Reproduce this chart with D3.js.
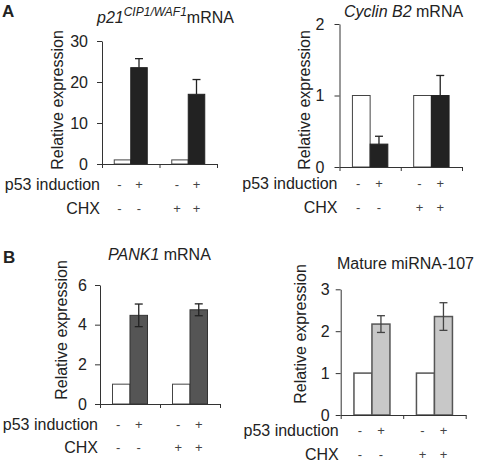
<!DOCTYPE html>
<html><head><meta charset="utf-8">
<script src="https://cdn.jsdelivr.net/npm/d3@7"></script>
<style>
body{margin:0;background:#fff;}
svg{display:block;font-family:"Liberation Sans",Arial,Helvetica,sans-serif;}
</style></head><body>
<svg id="c" width="479" height="467"></svg>
<script>
// ---- data ----
const groups = [0, 1];
const p53Signs = ["-", "+", "-", "+"];
const chxSigns = ["-", "-", "+", "+"];

const p21Values = [1, 23.5, 1, 17];
const p21Err = [0, 2.2, 0, 3.6];
const p21Ticks = [0, 10, 20, 30];

const cyclinValues = [1, 0.32, 1, 1.0];
const cyclinErr = [0, 0.11, 0, 0.28];
const cyclinTicks = [0, 1, 2];

const pank1Values = [1, 4.47, 1, 4.75];
const pank1Err = [0, 0.57, 0, 0.3];
const pank1Ticks = [0, 2, 4, 6];

const mirValues = [1, 2.17, 1, 2.35];
const mirErr = [0, 0.2, 0, 0.33];
const mirTicks = [0, 1, 2, 3];

const svg = d3.select("#c");
const TXT = "#222";

function panel(cfg) {
  const g = svg.append("g");
  const y = d3.scaleLinear().domain([0, d3.max(cfg.ticks)]).range([cfg.y0, cfg.y1]);
  const xg = d3.scaleBand().domain(groups).range([cfg.x0, cfg.x1]);
  const xl = d3.scaleLinear().domain([0, groups.length]).range([cfg.x0, cfg.x1]);
  const bw = cfg.bw;
  const barX = i => xg(Math.floor(i / 2)) + xg.bandwidth() / 2 + (i % 2 - 1) * bw;

  // bars
  g.selectAll("rect.bar").data(cfg.values).join("rect")
    .attr("x", (d, i) => barX(i))
    .attr("y", d => y(d))
    .attr("width", bw)
    .attr("height", d => y(0) - y(d))
    .attr("fill", (d, i) => i % 2 ? cfg.fill : "#fff")
    .attr("stroke", (d, i) => i % 2 ? cfg.barStroke : cfg.whiteStroke)
    .attr("stroke-width", cfg.sw);

  // error bars
  cfg.values.forEach((v, i) => {
    const e = cfg.err[i];
    if (!e) return;
    const cx = barX(i) + bw / 2;
    const lo = cfg.twoSided ? v - e : v;
    g.append("line").attr("x1", cx).attr("x2", cx).attr("y1", y(lo)).attr("y2", y(v + e))
      .attr("stroke", cfg.errColor).attr("stroke-width", 1.3);
    g.append("line").attr("x1", cx - 4).attr("x2", cx + 4).attr("y1", y(v + e)).attr("y2", y(v + e))
      .attr("stroke", cfg.errColor).attr("stroke-width", 1.3);
    if (cfg.twoSided)
      g.append("line").attr("x1", cx - 4).attr("x2", cx + 4).attr("y1", y(lo)).attr("y2", y(lo))
        .attr("stroke", cfg.errColor).attr("stroke-width", 1.3);
  });

  // y axis
  const ya = g.append("g").attr("transform", `translate(${cfg.x0},0)`)
    .call(d3.axisLeft(y).tickValues(cfg.ticks).tickSize(5).tickSizeOuter(0).tickPadding(cfg.tp).tickFormat(d3.format("d")));
  ya.selectAll("text").attr("font-size", 16).attr("fill", TXT).attr("font-family", null);
  ya.selectAll("line,path").attr("stroke", "#333");
  // x axis
  const xa = g.append("g").attr("transform", `translate(0,${cfg.y0})`)
    .call(d3.axisBottom(xl).tickValues(d3.range(groups.length + 1)).tickSize(4).tickSizeOuter(0).tickFormat(""));
  xa.selectAll("line,path").attr("stroke", "#333");

  // y label
  g.append("text").attr("transform", `translate(${cfg.ylx},${cfg.yly}) rotate(-90)`)
    .attr("text-anchor", "middle").attr("font-size", 16).attr("fill", TXT).text("Relative expression");

  // title
  const t = g.append("text").attr("x", cfg.tx).attr("y", cfg.ty).attr("font-size", 16).attr("fill", TXT);
  cfg.title.forEach(p => {
    const s = t.append("tspan").text(p.t);
    if (p.i) s.attr("font-style", "italic");
    if (p.sup) s.attr("font-size", 12).attr("dy", -7);
    if (p.down) s.attr("dy", 7);
  });

  // condition rows
  [["p53 induction", p53Signs, cfg.r1], ["CHX", chxSigns, cfg.r2]].forEach(([lab, signs, by]) => {
    g.append("text").attr("x", cfg.x0 - 2).attr("y", by).attr("text-anchor", "end")
      .attr("font-size", 16).attr("fill", TXT).text(lab);
    signs.forEach((s, i) => {
      g.append("text").attr("x", barX(i) + bw / 2 + (i % 2 ? 0 : -3)).attr("y", by - 1)
        .attr("text-anchor", "middle").attr("font-size", 13).attr("fill", "#444").text(s);
    });
  });
}

panel({ values: p21Values, err: p21Err, ticks: p21Ticks, x0: 102, x1: 217, y0: 164, y1: 41, bw: 16.5,
  fill: "#222", barStroke: "#222", whiteStroke: "#444", sw: 1, errColor: "#222", twoSided: false, tp: 9,
  ylx: 63, yly: 100, tx: 97, ty: 23,
  title: [{ t: "p21", i: true }, { t: "CIP1/WAF1", i: true, sup: true }, { t: "mRNA", down: true }],
  r1: 190, r2: 214 });

panel({ values: cyclinValues, err: cyclinErr, ticks: cyclinTicks, x0: 339.5, x1: 462, y0: 167, y1: 24, bw: 17.7,
  fill: "#222", barStroke: "#222", whiteStroke: "#444", sw: 1, errColor: "#222", twoSided: false, tp: 10,
  ylx: 310, yly: 100, tx: 344, ty: 17,
  title: [{ t: "Cyclin B2", i: true }, { t: " mRNA" }],
  r1: 189, r2: 213 });

svg.append("text").attr("x", 2).attr("y", 17).attr("font-size", 17).attr("font-weight", "bold").attr("fill", TXT).text("A");
svg.append("text").attr("x", 3).attr("y", 263).attr("font-size", 17).attr("font-weight", "bold").attr("fill", TXT).text("B");

panel({ values: pank1Values, err: pank1Err, ticks: pank1Ticks, x0: 100, x1: 220, y0: 404, y1: 285, bw: 17.5,
  fill: "#555", barStroke: "#333", whiteStroke: "#444", sw: 1, errColor: "#222", twoSided: true, tp: 8,
  ylx: 67, yly: 330, tx: 108, ty: 260,
  title: [{ t: "PANK1", i: true }, { t: " mRNA" }],
  r1: 430, r2: 453 });

panel({ values: mirValues, err: mirErr, ticks: mirTicks, x0: 340.7, x1: 465.7, y0: 415, y1: 289.3, bw: 18,
  fill: "#c8c8c8", barStroke: "#555", whiteStroke: "#555", sw: 1.5, errColor: "#444", twoSided: true, tp: 6,
  ylx: 306, yly: 334, tx: 337, ty: 269,
  title: [{ t: "Mature miRNA-107" }],
  r1: 436, r2: 460 });
</script>
</body></html>
